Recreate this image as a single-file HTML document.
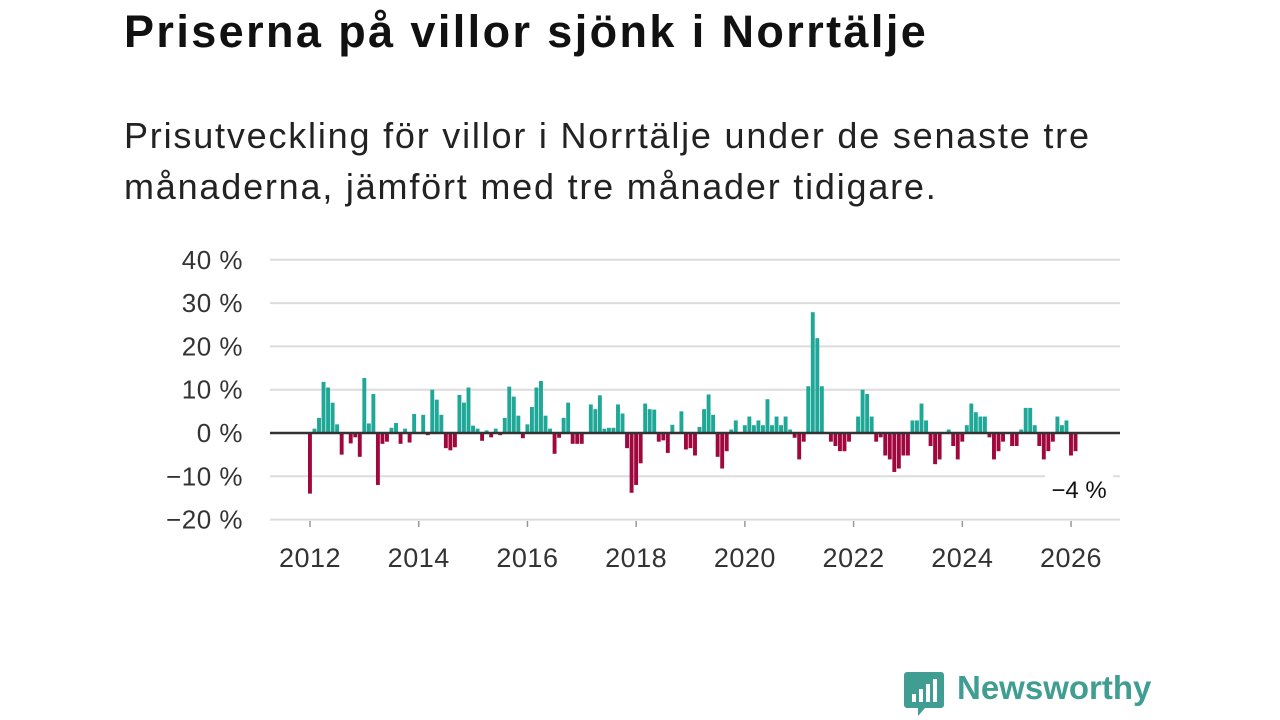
<!DOCTYPE html>
<html><head><meta charset="utf-8"><style>
body{margin:0;width:1280px;height:720px;background:#fff;overflow:hidden;font-family:"Liberation Sans",sans-serif;}
#title{position:absolute;left:124px;top:6px;font-size:45px;font-weight:bold;color:#111;margin:0;letter-spacing:2.4px;white-space:nowrap}
#sub{position:absolute;left:124px;top:110px;font-size:36px;line-height:51px;color:#222;letter-spacing:1.8px;white-space:nowrap}
#logo{position:absolute;left:903px;top:670px;}
#logo-text{position:absolute;left:957px;top:669px;font-size:33px;font-weight:bold;color:#3f9e91;}
</style></head><body>
<h1 id="title">Priserna på villor sjönk i Norrtälje</h1>
<div id="sub">Prisutveckling för villor i Norrtälje under de senaste tre<br>månaderna, jämfört med tre månader tidigare.</div>
<svg id="chart" width="1280" height="720" style="position:absolute;left:0;top:0"></svg>
<svg id="logo" width="42" height="48"><path d="M4 2h34a3 3 0 0 1 3 3v30a3 3 0 0 1-3 3H22l-7 8v-8H4a3 3 0 0 1-3-3V5a3 3 0 0 1 3-3z" fill="#3f9e91"/><rect x="9" y="24" width="4" height="8" fill="#fff"/><rect x="16" y="19" width="4" height="13" fill="#fff"/><rect x="23" y="14" width="4" height="18" fill="#fff"/><rect x="30" y="9" width="4" height="23" fill="#fff"/></svg>
<div id="logo-text">Newsworthy</div>
<script>
const startYear = 2012;
const values = [-14,1,3.5,11.8,10.5,7,2,-5,0,-2.4,-1,-5.5,
12.7,2.2,9,-12,-2.5,-2,1.2,2.3,-2.5,1,-2.2,4.4,
0,4.2,-0.5,10,7.7,4.2,-3.5,-4,-3.3,8.8,7,10.5,
1.7,1,-1.8,0.6,-1,1,-0.5,3.5,10.7,8.4,4,-1.2,
2,6,10.5,12,4,1,-4.8,-1.1,3.5,7,-2.5,-2.5,
-2.5,0,6.6,5.5,8.7,1,1.2,1.2,6.6,4.5,-3.5,-13.8,
-12,-7,6.8,5.5,5.4,-2,-1.7,-4.6,1.9,0,5,-3.8,
-3.5,-5.2,1.4,5.5,8.9,4.2,-5.5,-8.2,-4.2,0.8,2.9,0,
1.8,3.8,1.8,2.9,1.8,7.8,1.8,3.8,1.8,3.8,0.8,-1.1,
-6.1,-2,10.8,27.9,21.9,10.8,0,-2,-3,-4.2,-4.2,-2,
0,3.8,10,9,3.8,-2,-1,-5.2,-6.1,-9,-8.2,-5.2,
-5.2,2.9,2.9,6.8,2.9,-3,-7.2,-6.1,0,0.8,-3,-6.1,
-2,1.8,6.8,4.8,3.8,3.8,-1,-6.1,-4.2,-2,0,-3,
-3,0.8,5.8,5.8,1.8,-3,-6.1,-4.2,-2,3.8,1.8,2.9,
-5.2,-4.2];
const yTicks = [40,30,20,10,0,-10,-20];
const xTickYears = [2012,2014,2016,2018,2020,2022,2024,2026];
const lastLabel = "−4 %";

const svg = document.getElementById('chart');
const NS = 'http://www.w3.org/2000/svg';
const y = v => 433 - v * 4.33;
const x = m => 310 + m * 4.53;
function mk(tag, attrs){const e=document.createElementNS(NS,tag);for(const k in attrs)e.setAttribute(k,attrs[k]);svg.appendChild(e);return e;}
yTicks.forEach(t=>{
  if(t!==0){const g=mk('line',{x1:270,x2:1120,y1:y(t),y2:y(t),stroke:'#dcdcdc','stroke-width':2});
  
  }
  const l=mk('text',{x:243,y:y(t)+9,'text-anchor':'end','font-size':26,fill:'#333','font-family':'Liberation Sans, sans-serif','letter-spacing':0.5});
  l.textContent=(t<0?'−'+(-t):t)+' %';
  
  
});
xTickYears.forEach(yr=>{
  const px=x((yr-startYear)*12);
  const tk=mk('line',{x1:px,x2:px,y1:521,y2:527,stroke:'#999','stroke-width':1.5});
  
  
  const l=mk('text',{x:px,y:567,'text-anchor':'middle','font-size':27,fill:'#333','font-family':'Liberation Sans, sans-serif','letter-spacing':0.5});
  l.textContent=yr;
  
  
});
values.forEach((v,i)=>{
  const cx=x(i);
  const r=mk('rect',{x:cx-2,width:3.9,y:Math.min(y(v),y(0)),height:Math.abs(y(v)-y(0)),fill:v>=0?'#1fa797':'#a0083d'});
  
  
});
const z=mk('line',{x1:270,x2:1120,y1:y(0),y2:y(0),stroke:'#333','stroke-width':2.5});


const lv=values[values.length-1];
const lb=mk('rect',{x:1045,y:y(-10)-14,width:68,height:28,fill:'#fff'});


const lt=mk('text',{x:1079,y:y(lv)+47,'text-anchor':'middle','font-size':24,fill:'#111','font-family':'Liberation Sans, sans-serif'});
lt.textContent=lastLabel;


</script>
</body></html>
